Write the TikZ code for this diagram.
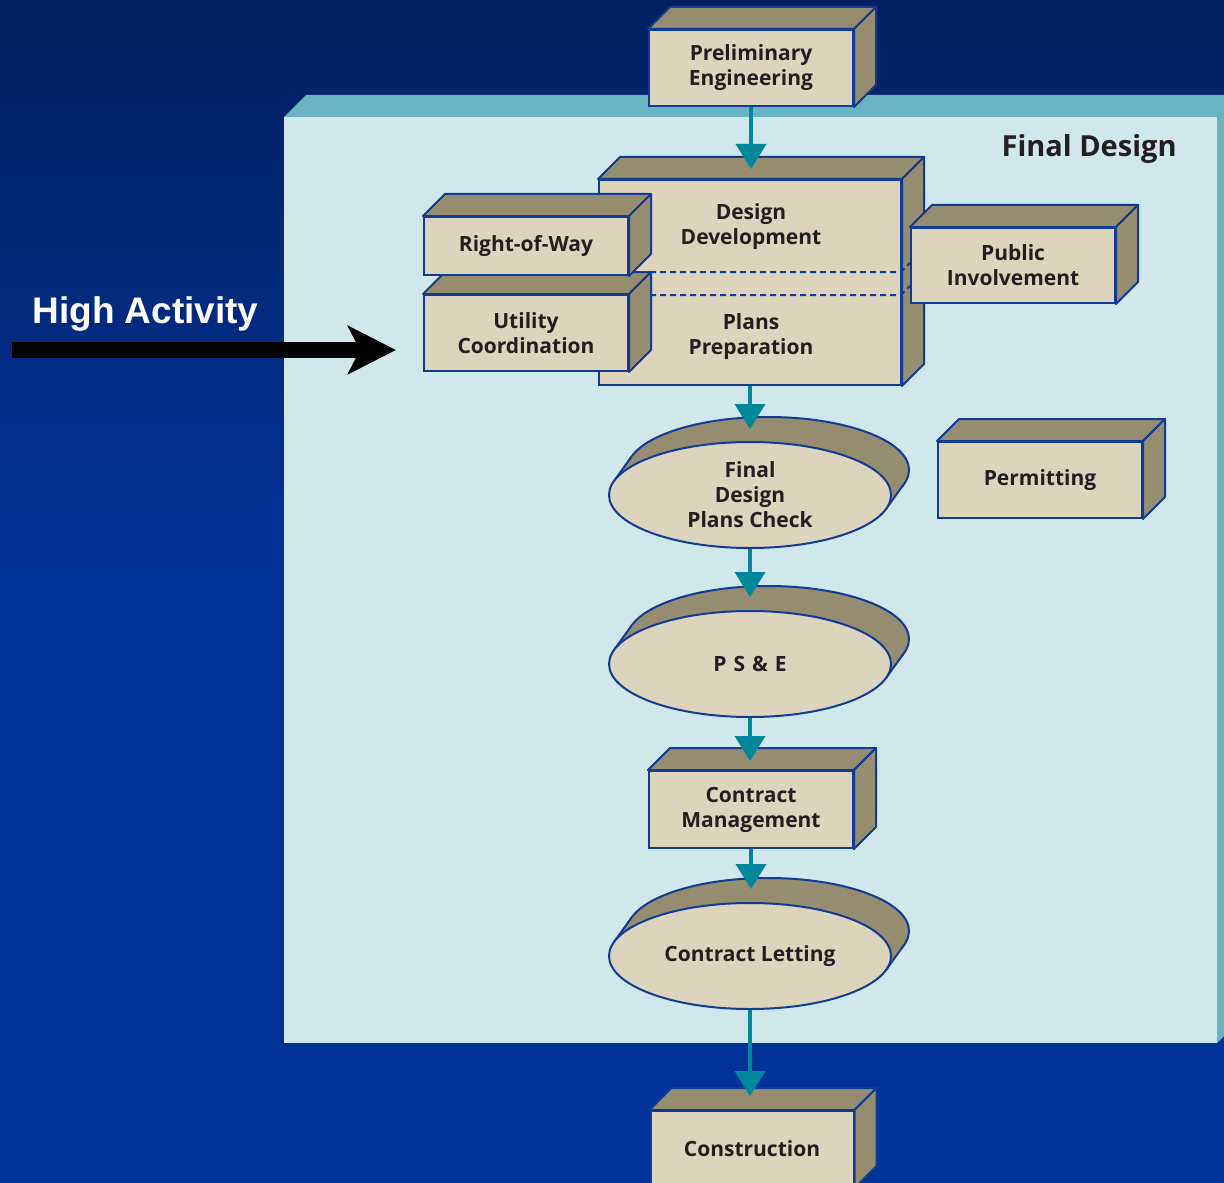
\documentclass[tikz,border=0pt]{standalone}
\usepackage{fontspec}
\setmainfont{Open Sans}
\newfontfamily\arialfont{Liberation Sans}
\usetikzlibrary{arrows.meta,calc,shapes.geometric}
\definecolor{bgtop}{RGB}{2,32,96}
\definecolor{bgbot}{RGB}{0,51,153}
\definecolor{panelfront}{RGB}{208,232,236}
\definecolor{paneltop}{RGB}{104,180,192}
\definecolor{boxfront}{RGB}{221,212,190}
\definecolor{boxside}{RGB}{150,140,112}
\definecolor{edgeblue}{RGB}{16,60,150}
\definecolor{arrowteal}{RGB}{0,135,155}
\definecolor{ink}{RGB}{35,31,32}
\tikzset{
  lbl/.style={font=\bfseries\fontsize{10.5}{12.5}\selectfont, text=ink, align=center, inner sep=0pt},
  box/.style={rectangle, draw=edgeblue, fill=boxfront, line width=1pt, inner sep=0pt, lbl},
  face/.style={fill=boxside, draw=edgeblue, line width=1pt, line join=round},
  disk/.style={ellipse, draw=edgeblue, fill=boxfront, line width=1pt, minimum width=141pt, minimum height=53pt, inner sep=0pt, lbl},
  flow/.style={arrowteal, line width=2pt, -{Triangle[width=15pt,length=12.5pt]}},
  hidden/.style={edgeblue, line width=1pt, dash pattern=on 3pt off 2pt},
}
\newcommand\cuboidfaces[1]{%
  \path[face] (#1.north west) -- ++(22,-22) -- ($(#1.north east)+(22,-22)$) -- (#1.north east) -- cycle;
  \path[face] (#1.north east) -- ($(#1.north east)+(22,-22)$) -- ($(#1.south east)+(22,-22)$) -- (#1.south east) -- cycle;
}
\newcommand\diskback[1]{%
  \fill[boxside] ($(#1)+(18,-25)$) ellipse [x radius=70.5pt, y radius=26.5pt];
  \draw[edgeblue,line width=1pt] ($(#1)+(18,-25)$) ellipse [x radius=70.5pt, y radius=26.5pt];
  \fill[boxside] ($(#1)+(136.1,13.84)$) -- ($(#1)+(154.1,-11.16)$) -- ($(#1)+(-118.1,-38.84)$) -- ($(#1)+(-136.1,-13.84)$) -- cycle;
  \draw[edgeblue,line width=1pt] ($(#1)+(136.1,13.84)$) -- ++(18,-25);
  \draw[edgeblue,line width=1pt] ($(#1)+(-136.1,-13.84)$) -- ++(18,-25);
}
\begin{document}
\begin{tikzpicture}[x=0.5pt,y=-0.5pt]
\useasboundingbox (0,0) rectangle (1224,1182);
\clip (0,0) rectangle (1224,1182);
% background
\shade[top color=bgtop, bottom color=bgbot, middle color=bgbot] (0,0) rectangle (1224,1182);
% panel
\fill[paneltop] (284,117) -- (306,95) -- (1239,95) -- (1239,1021) -- (1217,1043) -- (1217,117) -- cycle;
\fill[panelfront] (284,117) rectangle (1217,1043);
\node[font=\bfseries\fontsize{14.5}{17}\selectfont, text=ink, anchor=base east, inner sep=0pt] (title) at (1177,157) {Final Design};

% preliminary engineering
\node[box, minimum width=102pt, minimum height=38pt] (prelim) at (751,68) {Preliminary\\Engineering};
\cuboidfaces{prelim}

% design development / plans preparation
\node[box, minimum width=151pt, minimum height=102.5pt] (dd) at (750,282.5) {};
\cuboidfaces{dd}
\node[lbl] (ddl) at (751,227) {Design\\Development};
\node[lbl] (ppl) at (751,337) {Plans\\Preparation};
\draw[hidden] (650,272) -- (901,272) -- (911,262);
\draw[hidden] (650,295) -- (901,295) -- (911,285);

% utility and right-of-way
\node[box, minimum width=102pt, minimum height=38pt] (util) at (526,333) {Utility\\Coordination};
\cuboidfaces{util}
\node[box, minimum width=102pt, minimum height=29pt] (row) at (526,246) {Right-of-Way};
\cuboidfaces{row}

% public involvement
\node[box, minimum width=102pt, minimum height=37.5pt] (pub) at (1013,265.5) {Public\\Involvement};
\cuboidfaces{pub}

% permitting
\node[box, minimum width=102pt, minimum height=38pt] (perm) at (1040,480) {Permitting};
\cuboidfaces{perm}

% disks
\coordinate (fdpc) at (750,495);
\diskback{fdpc}
\node[disk] (fdp) at (fdpc) {Final\\Design\\Plans Check};

\coordinate (psec) at (750,664);
\diskback{psec}
\node[disk] (pse) at (psec) {P\,\,S\,\,\&\,\,E};

% contract management
\node[box, minimum width=102pt, minimum height=38.5pt] (cm) at (751,809.5) {Contract\\Management};
\cuboidfaces{cm}

\coordinate (clc) at (750,956);
\diskback{clc}
\node[disk] (cl) at (clc) {Contract Letting};

% construction
\node[box, minimum width=101.5pt, minimum height=38pt] (con) at (752,1149) {Construction};
\cuboidfaces{con}

% flow arrows
\draw[flow] (prelim.south) -- ($(prelim.south |- dd.north)+(0,-10)$);
\draw[flow] (dd.south) -- ($(dd.south |- fdp.north)+(0,-12)$);
\draw[flow] (fdp.south) -- ($(pse.north)+(0,-13)$);
\draw[flow] (pse.south) -- ($(pse.south |- cm.north)+(0,-9)$);
\draw[flow] (cm.south) -- ($(cm.south |- cl.north)+(0,-13)$);
\draw[flow] (cl.south) -- ($(cl.south |- con.north)+(0,-14)$);

% high activity
\node[font=\arialfont\bfseries\fontsize{18.5}{22}\selectfont, text=white, anchor=base, inner sep=0pt] (ha) at (145.5,323) {High Activity};
\coordinate (hastart) at (12,350);
\coordinate (haend) at (396,350);
\draw[black, line width=8pt, -{Stealth[length=24pt,width=24pt,inset=6pt]}] (hastart) -- (haend);
\end{tikzpicture}
\end{document}
